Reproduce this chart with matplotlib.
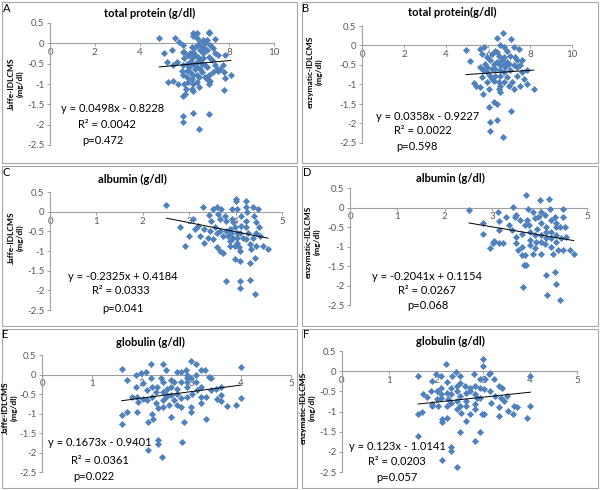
import matplotlib
matplotlib.use("Agg")
import matplotlib.pyplot as plt
from matplotlib.patches import Rectangle
import numpy as np

plt.rcParams['font.family'] = ['Lato', 'DejaVu Sans']

# --- data ---
# A: total protein vs Jaffe-IDLCMS
a_x = [4.88, 5.09, 5.58, 5.77, 5.43, 5.21, 5.65, 5.51, 5.28, 5.48, 5.73, 5.95, 5.92, 6.0, 5.95,
       5.88, 5.95, 5.98, 6.07, 5.95, 6.03, 5.95, 5.95, 6.37, 6.55, 6.37, 6.58, 6.70, 6.85, 7.0,
       7.08, 7.08, 6.92, 7.37, 6.32, 6.4, 6.25, 6.17, 6.47, 6.70, 6.77, 6.88, 7.14, 7.29, 7.37,
       7.51, 7.81, 6.62, 6.85, 7.08, 7.22, 6.25, 6.4, 6.55, 6.77, 6.22, 6.47, 6.70, 7.0, 7.37,
       7.44, 7.59, 7.51, 7.74, 7.77, 8.07, 7.80, 6.25, 6.4, 6.32, 6.55, 6.67, 6.92, 7.0, 7.08,
       7.14, 6.17, 6.4, 6.35, 6.4, 6.55, 6.67, 7.08, 7.77, 6.37, 7.08, 6.67, 6.1, 6.32, 6.55,
       6.85, 6.92, 6.1, 6.7, 6.47, 6.62, 7.0, 7.29, 6.77, 6.1]
a_y = [0.12, -0.25, 0.12, 0.04, -0.17, -0.46, -0.46, -0.54, -0.96, -0.92, -1.0, -0.04, -0.21, -0.37, -0.54,
       -0.67, -0.79, -1.0, -1.12, -1.29, -1.25, -1.79, -1.93, 0.25, 0.25, 0.17, 0.12, 0.04, 0.08, 0.08,
       0.29, 0.25, 0.0, 0.10, -0.08, -0.21, -0.25, -0.29, -0.29, -0.17, -0.08, -0.12, -0.04, -0.12, -0.25,
       -0.29, -0.29, -0.33, -0.37, -0.33, -0.42, -0.46, -0.5, -0.46, -0.5, -0.58, -0.62, -0.62, -0.58, -0.54,
       -0.62, -0.62, -0.67, -0.54, -0.71, -0.79, -0.85, -0.71, -0.79, -0.87, -0.79, -0.83, -0.83, -0.87, -0.79,
       -0.92, -0.96, -1.0, -1.12, -1.17, -0.96, -1.08, -1.0, -1.15, -1.71, -1.73, -2.1, -0.5, -0.37, -0.58,
       -0.25, -0.54, -0.67, -0.42, -0.08, -0.04, -0.17, -0.71, -0.71, -0.83]

# B: total protein vs enzymatic-IDLCMS
b_x = [4.95, 5.16, 5.32, 5.44, 5.63, 5.83, 5.71, 5.63, 5.71, 5.63, 5.76, 5.87, 5.95, 5.95, 6.03,
       6.11, 6.03, 6.08, 6.08, 6.27, 6.43, 6.43, 6.71, 6.43, 7.1, 6.59, 6.75, 6.9, 7.22, 7.46,
       6.35, 6.19, 6.51, 6.75, 7.06, 7.3, 7.38, 6.9, 6.43, 6.59, 6.83, 6.35, 6.19, 6.11, 6.35,
       6.59, 6.78, 7.06, 7.22, 7.38, 7.54, 7.62, 7.86, 7.73, 7.86, 8.17, 7.54, 7.22, 7.0, 6.75,
       6.51, 6.27, 6.51, 6.59, 7.1, 6.71, 6.27, 6.59, 5.95, 6.9, 7.38, 6.19, 6.67, 7.0, 6.43,
       5.95, 5.76, 7.14, 7.62, 6.59, 6.83]
b_y = [-0.11, -0.40, -0.97, -1.03, -0.09, -0.04, -0.21, -0.56, -0.81, -1.07, -1.24, -0.47, -0.68, -0.94, -1.11,
       -0.38, -1.58, -1.97, -2.18, -1.45, -1.50, -1.92, 0.32, 0.20, 0.17, 0.0, -0.04, -0.13, -0.04, -0.09,
       -0.13, -0.21, -0.26, -0.30, -0.26, -0.30, -0.38, -0.43, -0.43, -0.51, -0.56, -0.60, -0.60, -0.77, -0.77,
       -0.77, -0.68, -0.64, -0.51, -0.56, -0.51, -0.68, -0.64, -0.85, -0.98, -1.11, -1.03, -1.11, -1.03, -0.94,
       -0.94, -0.90, -1.11, -1.20, -1.67, -2.35, -0.47, -0.64, -0.56, -0.81, -0.77, -0.85, -0.38, -0.47, -0.17,
       -0.30, -0.64, -0.94, -0.38, -1.03, -0.47]

# C: albumin vs Jaffe-IDLCMS
c_x = [2.51, 2.80, 2.91, 3.0, 3.08, 3.12, 3.19, 3.30, 3.31, 3.31, 3.41, 3.43, 3.48, 3.52, 3.59,
       3.62, 3.55, 3.59, 3.66, 3.72, 3.66, 3.69, 3.77, 3.80, 3.80, 3.84, 3.87, 3.87, 3.93, 3.95,
       3.98, 4.0, 4.0, 4.02, 4.03, 4.03, 4.03, 4.07, 4.09, 3.98, 4.10, 4.22, 4.22, 4.25, 4.23,
       4.22, 4.27, 4.23, 4.32, 4.34, 4.30, 4.41, 4.40, 4.43, 4.45, 4.48, 4.5, 4.52, 4.59, 4.70,
       4.45, 4.30, 4.10, 3.80, 4.10, 4.41, 4.37, 4.12, 4.12, 3.91, 3.73, 3.66, 3.44, 3.23, 3.95,
       4.16, 3.87, 4.09, 3.98, 4.37, 3.59, 3.52, 3.93]
c_y = [0.18, -0.40, -0.87, -0.62, -0.19, -0.44, -0.36, 0.11, -0.44, -0.79, -0.66, -0.09, -0.23, 0.07, 0.11,
       -0.06, -0.40, -0.91, -1.0, -1.06, -0.19, 0.07, -0.10, -0.23, -0.49, -0.62, -0.74, -0.87, 0.07, -0.27,
       -0.40, 0.32, 0.26, 0.07, -0.53, -0.66, -0.79, -0.91, -1.0, -1.20, -1.26, 0.28, 0.11, -0.02, -0.23,
       -0.40, -0.53, -0.70, -0.83, -0.96, -1.30, -1.17, -0.10, -0.27, -0.53, 0.07, -0.40, -0.62, -0.87, -0.96,
       -0.87, -1.73, -1.77, -1.77, -1.94, -2.09, 0.11, -0.10, -0.36, -0.53, -0.62, -0.49, -0.49, -0.62, -0.66,
       -0.66, -0.44, -0.53, -0.87, -0.66, -0.53, -0.70, -0.19]

# D: albumin vs enzymatic-IDLCMS
d_x = [2.51, 2.81, 2.81, 3.02, 2.95, 3.04, 3.15, 3.22, 3.13, 3.15, 3.15, 3.30, 3.36, 3.41, 3.44,
       3.48, 3.51, 3.51, 3.55, 3.62, 3.62, 3.69, 3.67, 3.72, 3.65, 3.72, 3.76, 3.74, 3.78, 3.79,
       3.79, 3.79, 3.86, 3.90, 3.90, 3.90, 3.95, 4.0, 4.02, 4.02, 4.02, 4.04, 4.02, 4.11, 4.14,
       4.14, 4.14, 4.13, 4.16, 4.20, 4.21, 4.23, 4.25, 4.23, 4.28, 4.32, 4.34, 4.35, 4.34, 4.32,
       4.34, 4.39, 4.42, 4.46, 4.49, 4.49, 4.53, 4.55, 4.42, 4.64, 4.72, 4.49, 3.62, 3.69, 3.97,
       4.11, 3.86, 3.58, 3.51, 3.93, 4.25, 4.35]
d_y = [-0.07, -0.41, -0.69, -0.91, -1.05, -0.86, -0.90, -0.90, -0.11, -0.35, -0.58, -0.24, -0.45, -0.58, 0.02,
       -0.24, -0.20, -0.75, -1.09, -1.01, -1.22, -1.22, -1.48, -1.48, -2.03, 0.32, -0.03, -0.32, -0.45, -0.62,
       -0.84, -0.97, -0.11, -0.28, -0.71, -1.05, -0.54, 0.19, -0.11, -0.41, -0.71, -0.88, -1.18, -0.20, -0.50,
       -0.62, -0.79, -1.74, -2.25, 0.21, -0.03, -0.32, -0.62, -1.01, -1.18, -0.24, -0.50, -0.71, -0.88, -1.65,
       -1.95, -1.09, -0.50, -0.79, -0.03, -0.24, -0.50, -0.75, -2.38, -1.09, -1.18, -1.09, -0.67, -0.45, -0.24,
       -0.94, -1.18, -0.32, -0.92, -0.88, -0.79, -0.41]

# E: globulin vs Jaffe-IDLCMS
e_x = [1.60, 1.60, 1.60, 1.71, 1.71, 1.80, 1.89, 1.89, 1.91, 1.91, 1.92, 1.99, 2.02, 2.02, 2.09,
       2.11, 2.11, 2.12, 2.12, 2.19, 2.19, 2.20, 2.20, 2.20, 2.22, 2.29, 2.29, 2.31, 2.32, 2.32,
       2.32, 2.40, 2.42, 2.42, 2.42, 2.42, 2.42, 2.49, 2.52, 2.52, 2.55, 2.59, 2.60, 2.60, 2.60,
       2.65, 2.71, 2.72, 2.72, 2.79, 2.80, 2.80, 2.80, 2.82, 2.85, 2.89, 2.91, 2.91, 2.92, 2.92,
       2.92, 2.99, 3.0, 3.0, 3.0, 3.02, 3.10, 3.10, 3.10, 3.12, 3.19, 3.20, 3.20, 3.27, 3.29,
       3.29, 3.35, 3.40, 3.40, 3.49, 3.52, 3.59, 3.60, 3.59, 3.71, 3.89, 3.99, 3.99, 2.39, 2.65,
       2.72, 3.19, 2.49]
e_y = [0.14, -1.03, -1.28, -0.15, -0.97, -0.57, -0.02, -0.32, -0.57, -0.97, -0.70, 0.03, -0.23, -0.62, 0.07,
       -0.40, -0.66, -1.21, -1.94, 0.26, -0.10, -0.32, -0.57, -1.00, -1.13, -0.44, -0.74, -0.32, -1.68, -1.79,
       -0.87, -2.11, 0.26, -0.19, -0.44, -0.66, -0.83, 0.11, -0.36, -0.53, -0.79, -0.15, -0.32, -1.09, -0.53,
       -0.66, 0.07, -0.36, -0.79, 0.07, -0.19, -0.60, -0.83, -1.73, -1.21, 0.11, -0.32, -0.57, -0.02, -0.10,
       -0.19, 0.34, -0.10, -0.83, -0.96, -0.49, 0.26, -0.02, -0.19, -0.40, 0.11, -0.32, -0.57, 0.11, -0.57,
       -1.15, -0.06, -0.10, -0.40, -0.36, -0.62, -0.32, -0.53, -0.68, -0.80, -0.79, 0.20, -0.60, -0.10, -0.19,
       -0.49, -0.74, -0.57]

# F: globulin vs enzymatic-IDLCMS
f_x = [1.62, 1.62, 1.62, 1.71, 1.73, 1.80, 1.89, 1.92, 1.92, 1.92, 2.01, 2.03, 2.04, 2.10, 2.10,
       2.11, 2.11, 2.13, 2.13, 2.13, 2.22, 2.24, 2.24, 2.24, 2.24, 2.25, 2.32, 2.32, 2.32, 2.32,
       2.32, 2.42, 2.44, 2.44, 2.44, 2.44, 2.44, 2.52, 2.52, 2.52, 2.52, 2.54, 2.52, 2.61, 2.63,
       2.63, 2.63, 2.63, 2.72, 2.73, 2.80, 2.82, 2.82, 2.82, 2.82, 2.84, 2.93, 2.94, 2.94, 2.94,
       2.98, 3.01, 3.01, 3.03, 3.03, 3.05, 3.12, 3.14, 3.15, 3.17, 3.23, 3.26, 3.33, 3.33, 3.35,
       3.40, 3.45, 3.51, 3.54, 3.63, 3.65, 3.73, 3.94, 4.01, 4.01, 2.73, 2.87, 2.03, 3.38, 2.35]
f_y = [-0.12, -1.07, -1.61, -1.01, -0.57, -0.63, -0.49, -0.82, -0.86, -0.25, -0.08, -0.70, -0.86, -0.12, -0.41,
       -0.57, -0.66, -1.19, -1.27, -2.21, 0.19, -0.27, -0.53, -0.86, -1.15, -0.68, -0.41, -0.57, -0.80, -1.89,
       -1.99, -0.02, -0.37, -0.49, -0.74, -0.94, -2.38, -0.11, -0.29, -0.61, -0.86, -1.04, -1.50, -0.37, -0.53,
       -0.74, -0.86, -1.23, -0.49, -1.07, -0.08, -0.37, -0.57, -0.82, -1.72, -0.94, -0.20, -0.41, -0.66, -1.50,
       -1.07, 0.30, 0.14, -0.45, -1.07, -0.20, -0.08, -0.49, -0.04, -0.78, -0.20, -0.61, -0.37, -1.11, -0.90,
       -0.41, -0.74, -0.61, -0.98, -1.07, -0.86, -0.90, -1.15, -0.11, -0.86, -0.41, -0.66, -0.49, -0.66, -0.12]

letters = ['A', 'B', 'C', 'D', 'E', 'F']
titles = ['total protein (g/dl)', 'total protein(g/dl)', 'albumin (g/dl)',
          'albumin (g/dl)', 'globulin (g/dl)', 'globulin (g/dl)']
ylabels = ['Jaffe-IDLCMS\n(mg/dl)', 'enzymatic-IDLCMS\n(mg/dl)'] * 3
xmaxes = [10, 10, 5, 5, 5, 5]
xsteps = [2, 2, 1, 1, 1, 1]
slopes = [0.0498, 0.0358, -0.2325, -0.2041, 0.1673, 0.123]
intercepts = [-0.8228, -0.9227, 0.4184, 0.1154, -0.9401, -1.0141]
eqs = ['y = 0.0498x - 0.8228', 'y = 0.0358x - 0.9227', 'y = -0.2325x + 0.4184',
       'y = -0.2041x + 0.1154', 'y = 0.1673x - 0.9401', 'y = 0.123x - 1.0141']
r2s = ['R² = 0.0042', 'R² = 0.0022', 'R² = 0.0333', 'R² = 0.0267', 'R² = 0.0361', 'R² = 0.0203']
pvals = ['p=0.472', 'p=0.598', 'p=0.041', 'p=0.068', 'p=0.022', 'p=0.057']
xs = [a_x, b_x, c_x, d_x, e_x, f_x]
ys = [a_y, b_y, c_y, d_y, e_y, f_y]

W, H = 600, 490
fig = plt.figure(figsize=(6, 4.9), dpi=100)

def fx(px):
    return px / W

def fy(py):
    return 1 - py / H

# layout in pixels (top-left origin)
boxes = [(2, 2, 297, 163), (302, 2, 598, 163), (2, 166, 297, 326),
         (302, 166, 598, 326), (2, 329, 297, 488), (302, 329, 598, 488)]
plots = [(50, 23, 274, 145), (362, 26, 572, 143), (50, 192, 282, 310),
         (350, 188, 587, 305), (42, 355, 291, 472), (342, 351, 577, 472)]
title_pos = [(150, 13), (452, 12), (132, 179), (450, 178), (150, 342), (450, 341)]
letter_pos = [(7, 9), (306, 8), (6, 172), (307, 173), (5, 335), (306, 334)]
ylab_pos = [(16, 84), (315, 72), (16, 238), (313, 242), (10, 408), (308, 408)]
text_pos = [[(113, 108), (107, 125), (103, 140)],
            [(428, 117), (423, 131), (417, 146)],
            [(123, 277), (121, 291), (123, 308)],
            [(427, 277), (427, 291), (428, 305)],
            [(100, 442), (100, 460), (94, 476)],
            [(397, 447), (397, 461), (397, 477)]]

for i in range(6):
    x0, y0, x1, y1 = boxes[i]
    fig.patches.append(Rectangle((fx(x0), fy(y1)), fx(x1 - x0), (y1 - y0) / H,
                                 transform=fig.transFigure, fill=False,
                                 edgecolor='#a6a6a6', lw=0.8))
    l, t, r, b = plots[i]
    ax = fig.add_axes([fx(l), fy(b), fx(r - l), (b - t) / H])
    ax.patch.set_alpha(0)
    ax.scatter(xs[i], ys[i], marker='D', s=13, color='#4F81BD', linewidths=0, zorder=3)
    lo, hi = min(xs[i]), max(xs[i])
    ax.plot([lo, hi], [slopes[i] * lo + intercepts[i], slopes[i] * hi + intercepts[i]],
            color='black', lw=0.7, zorder=4)
    ax.set_xlim(0, xmaxes[i])
    ax.set_ylim(-2.5, 0.5)
    ax.set_xticks(np.arange(0, xmaxes[i] + 0.1, xsteps[i]))
    ax.set_yticks([0.5, 0, -0.5, -1, -1.5, -2, -2.5])
    ax.set_yticklabels(['0.5', '0', '-0.5', '-1', '-1.5', '-2', '-2.5'])
    ax.spines['top'].set_visible(False)
    ax.spines['right'].set_visible(False)
    ax.spines['bottom'].set_position(('data', 0))
    for s in ['left', 'bottom']:
        ax.spines[s].set_color('#a0a0a0')
        ax.spines[s].set_linewidth(0.8)
    ax.tick_params(axis='both', colors='#a0a0a0', labelcolor='#595959',
                   labelsize=7, length=2.5, width=0.7, pad=1.5)
    ax.tick_params(axis='x', pad=1)

    fig.text(fx(title_pos[i][0]), fy(title_pos[i][1]), titles[i], ha='center',
             va='center', fontsize=8, fontweight='bold')
    fig.text(fx(letter_pos[i][0]), fy(letter_pos[i][1]), letters[i], ha='center',
             va='center', fontsize=8)
    fig.text(fx(ylab_pos[i][0]), fy(ylab_pos[i][1]), ylabels[i], ha='center',
             va='center', fontsize=6, fontweight='bold', rotation=90, linespacing=1.3)
    for txt, (px, py) in zip([eqs[i], r2s[i], pvals[i]], text_pos[i]):
        fig.text(fx(px), fy(py), txt, ha='center', va='center', fontsize=8)

fig.savefig('out.png', dpi=100, facecolor='white')
